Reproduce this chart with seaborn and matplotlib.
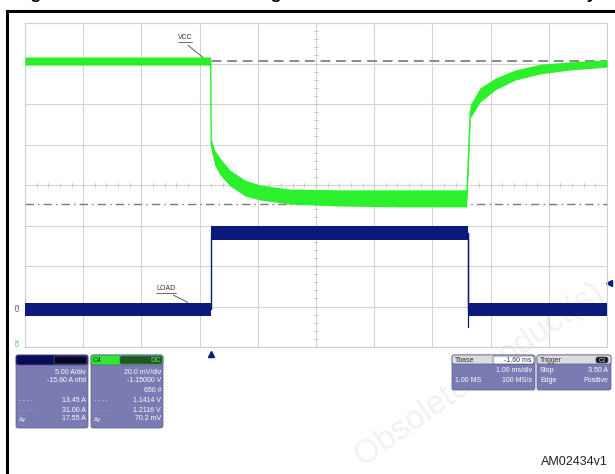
"""
Oscilloscope capture: supply voltage (C4, green) and load current (C3, navy)
during a load step. Traces are stored as upper/lower envelopes in screen
divisions (10 x 8 grid) read off the capture.
"""

import matplotlib.pyplot as plt
import pandas as pd
import seaborn as sns
from matplotlib.patches import Rectangle, FancyBboxPatch

sns.set_theme(style="white")
plt.rcParams["font.family"] = ["Liberation Sans", "DejaVu Sans"]

W, H = 615, 474

# --- C4 (VCC, green) envelope, in divisions
vcc_x = [0, 3.19, 3.20, 3.26, 3.35, 3.52, 3.78, 4.04, 4.55, 5.41, 6.44, 7.59,
         7.65, 7.82, 8.08, 8.42, 8.85, 9.36, 10]
vcc_top = [3.16, 3.16, 1.14, 0.86, 0.67, 0.37, 0.12, 0.00, -0.10, -0.12, -0.12, -0.12,
           1.98, 2.40, 2.64, 2.84, 2.98, 3.04, 3.09]
vcc_bot = [2.96, 2.96, 0.86, 0.49, 0.25, -0.02, -0.27, -0.37, -0.47, -0.52, -0.54, -0.54,
           1.65, 2.05, 2.35, 2.59, 2.74, 2.84, 2.91]

# --- C3 (LOAD current, navy) envelope, in divisions
load_x = [0, 3.20, 3.20, 7.61, 7.61, 10]
load_top = [-2.91, -2.91, -1.01, -1.01, -2.91, -2.91]
load_bot = [-3.23, -3.23, -1.36, -1.36, -3.23, -3.23]

vcc_ref = 3.06      # dashed cursor
cursor2 = -0.47     # dash-dot cursor
trig_x = 3.20
trig_level = -2.42

GREEN = "#2bf02b"
NAVY = "#0c1a7c"
BOX = "#7b7bb3"

c3_lines = [("", "5.00 A/div"), ("", "-15.60 A ofst"), ("", ""),
            ("- - - -", "13.45 A"), ("· · · · ·", "31.00 A"), ("Δy", "17.55 A")]
c4_lines = [("", "20.0 mV/div"), ("", "-1.15000 V"), ("", "650 #"),
            ("- - - -", "1.1414 V"), ("· · · · ·", "1.2116 V"), ("Δy", "70.2 mV")]


def px(x, y):
    return x / W, 1 - y / H


def label(x, y, s, **kw):
    kw.setdefault("fontsize", 5)
    kw.setdefault("color", "white")
    kw.setdefault("va", "center")
    fig.text(*px(x, y), s, zorder=10, **kw)


fig = plt.figure(figsize=(W / 100, H / 100), dpi=100)

# watermark behind everything
fig.text(*px(480, 375), "Obsolete Product(s)", fontsize=24, color="#c8c8c8", alpha=0.25,
         rotation=35, ha="center", va="center", zorder=-1)

ax = fig.add_axes([25 / W, 1 - 347 / H, 582 / W, 324 / H])
ax.patch.set_alpha(0)

# grid
ax.set_xlim(0, 10)
ax.set_ylim(-4, 4)
for gx in range(11):
    ax.axvline(gx, color="#d4d4d4", lw=0.8, zorder=0)
for gy in range(-4, 5):
    ax.axhline(gy, color="#d4d4d4", lw=0.8, zorder=0)
for t in range(1, 50):
    ax.plot([t * 0.2, t * 0.2], [-0.06, 0.06], color="#c0c0c0", lw=0.6, zorder=0)
for t in range(1, 40):
    ax.plot([4.97, 5.03], [-4 + t * 0.2] * 2, color="#c0c0c0", lw=0.6, zorder=0)
ax.set_xticks([])
ax.set_yticks([])
for s in ax.spines.values():
    s.set_color("#cfcfcf")
    s.set_linewidth(0.8)

# cursors
ax.axhline(vcc_ref, color="#8a8a8a", lw=1.4, ls=(0, (5, 3)), zorder=1)
ax.axhline(cursor2, color="#7a7a7a", lw=1.0, ls=(0, (6, 3, 1, 3)), zorder=1)

# traces
vcc = pd.DataFrame({"t": vcc_x, "top": vcc_top, "bot": vcc_bot})
vcc["mid"] = (vcc["top"] + vcc["bot"]) / 2
load = pd.DataFrame({"t": load_x, "top": load_top, "bot": load_bot})
load["mid"] = (load["top"] + load["bot"]) / 2

ax.fill_between(vcc["t"], vcc["bot"], vcc["top"], color=GREEN, lw=0, zorder=3)
sns.lineplot(data=vcc, x="t", y="mid", estimator=None, sort=False,
             color=GREEN, lw=1.0, ax=ax, zorder=3)
ax.fill_between(load["t"], load["bot"], load["top"], color=NAVY, lw=0, zorder=3)
sns.lineplot(data=load, x="t", y="mid", estimator=None, sort=False,
             color=NAVY, lw=1.0, ax=ax, zorder=3)
ax.plot([7.61, 7.61], [-1.2, -3.5], color=NAVY, lw=0.9, zorder=3)
ax.set_xlabel("")
ax.set_ylabel("")

# trace labels
ax.text(2.75, 3.6, "VCC", fontsize=5, color="#333333", ha="center")
ax.plot([2.63, 2.87], [3.53, 3.53], color="#333333", lw=0.5)
ax.plot([2.8, 3.1], [3.45, 3.1], color="#444444", lw=0.6)
ax.text(2.42, -2.6, "LOAD", fontsize=5, color="#333333", ha="center")
ax.plot([2.25, 2.6], [-2.67, -2.67], color="#333333", lw=0.5)
ax.plot([2.55, 2.8], [-2.72, -2.9], color="#444444", lw=0.6)

# markers
ax.plot([trig_x], [-4.18], marker="^", ms=4.5, color=NAVY, clip_on=False)
ax.plot([10.04], [trig_level], marker="<", ms=4.5, color=NAVY, clip_on=False)
label(18, 307, "C3", fontsize=4.5, color=NAVY, rotation=90, ha="center")
label(18, 342, "C4", fontsize=4.5, color="#3cc43c", rotation=90, ha="center")


def box(x0, y0, x1, y1, color, z=5):
    fig.patches.append(FancyBboxPatch(px(x0, y1), (x1 - x0) / W, (y1 - y0) / H,
                                      boxstyle="round,pad=0,rounding_size=0.004",
                                      transform=fig.transFigure, facecolor=color,
                                      edgecolor="#5a5a8a", lw=0.5, zorder=z))


# channel boxes
box(16, 355, 88, 428, BOX)
box(16, 355, 88, 365, "#0b0b5c", 6)
box(54, 356, 87, 364, "#05052a", 7)
box(91, 355, 163, 428, BOX)
box(91, 355, 163, 365, "#33e633", 6)
box(120, 356, 162, 364, "#1d5a1d", 7)
label(93, 360.5, "C4", color="#103010")
label(160, 360.5, "DC", color="#66ee66", ha="right")
rows_y = [372, 381, 391, 401, 410, 419]
for (lab, val), ry in zip(c3_lines, rows_y):
    label(86, ry, val, ha="right")
    if lab:
        label(19, ry, lab, fontsize=4.5)
for (lab, val), ry in zip(c4_lines, rows_y):
    label(161, ry, val, ha="right")
    if lab:
        label(94, ry, lab, fontsize=4.5)

# timebase and trigger boxes
box(452, 355, 535, 390, BOX)
box(452, 355, 535, 364, "#dcdcdc", 6)
box(493, 356, 534, 364, "#ffffff", 7)
label(455, 360, "Tbase", color="#333333")
label(532, 360, "-1.60 ms", color="#333333", ha="right")
label(532, 371, "1.00 ms/div", ha="right")
label(455, 381, "1.00 MS")
label(532, 381, "100 MS/s", ha="right")
box(537, 355, 611, 390, BOX)
box(537, 355, 611, 364, "#dcdcdc", 6)
box(596, 357, 608, 363, "#111111", 7)
label(540, 360, "Trigger", color="#333333")
label(602, 360, "C3", fontsize=4, ha="center")
label(540, 371, "Stop")
label(608, 371, "3.50 A", ha="right")
label(540, 381, "Edge")
label(608, 381, "Positive", ha="right")

# figure reference and outer frame
label(608, 462, "AM02434v1", fontsize=9, color="#222222", ha="right")
fig.patches.append(Rectangle(px(7, 490), 0.1 + 615 / W, (490 - 11) / H,
                             transform=fig.transFigure, fill=False,
                             edgecolor="black", lw=2.2, zorder=9))
fig.text(15 / W, 1 + 1.5 / H, "Figure 16. Load transient during an overcurrent event and its recovery",
         fontsize=12.5, fontweight="bold", va="baseline", color="black")

fig.savefig("out.png", dpi=100)
